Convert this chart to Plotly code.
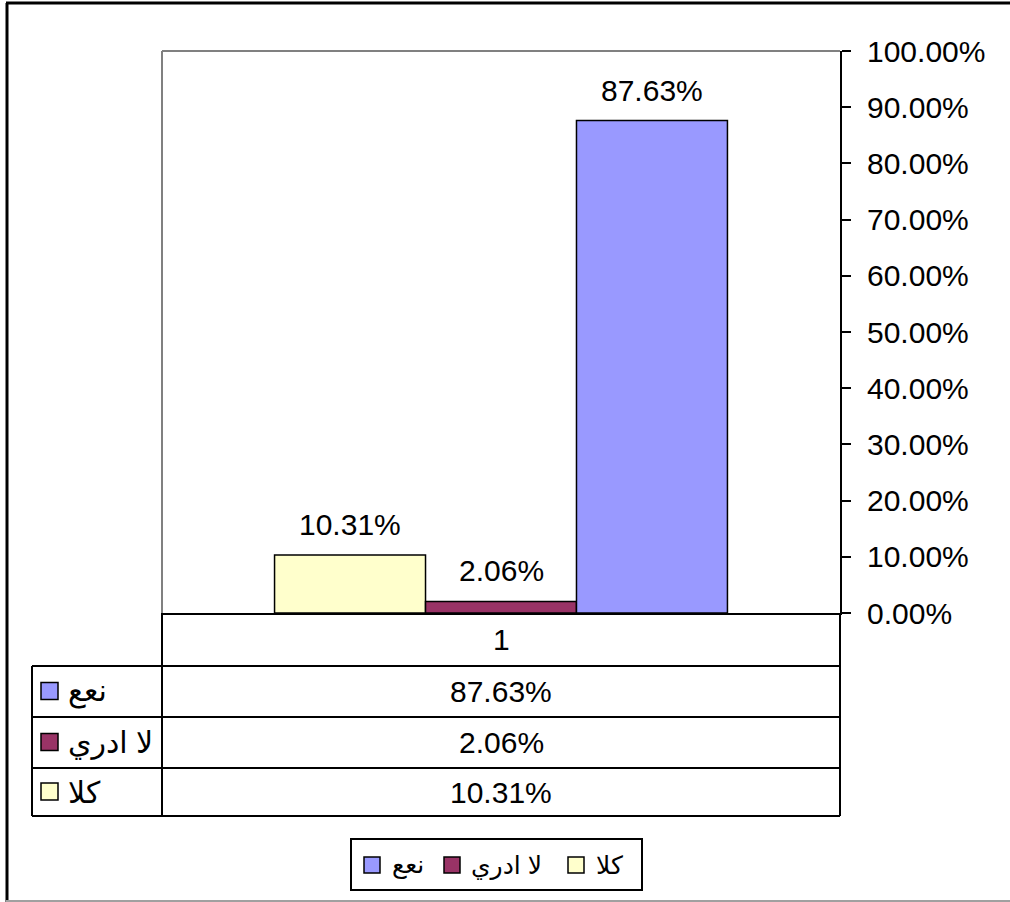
import plotly.graph_objects as go

# ---------------- data ----------------
categories = ["كلا", "لا ادري", "نعع"]
values = [0.1031, 0.0206, 0.8763]
colors = ["#FFFFCC", "#993366", "#9999FF"]
group_label = ["1"]
table_order = ["نعع", "لا ادري", "كلا"]

FONT = "Liberation Sans, Arial, DejaVu Sans, sans-serif"

# ---------------- layout geometry (pixels) ----------------
WIDTH, HEIGHT = 1010, 902
L, R, T, B = 162, 840, 51, 613
PW, PH = R - L, B - T
BARGAP = 0.332


def px(x):
    return (x - L) / PW


def py(y):
    return (B - y) / PH


fig = go.Figure()
for name, v, c in zip(categories, values, colors):
    fig.add_trace(go.Bar(
        x=group_label, y=[v], name=name,
        marker=dict(color=c, line=dict(color="black", width=1.5)),
        showlegend=False, hoverinfo="skip",
    ))

shapes = []
annotations = []

# data labels above bars (x given as category index 0 -> group "1")
bar_w = PW * (1 - BARGAP) / len(categories)
for i, v in enumerate(values):
    annotations.append(dict(
        x=0, y=v, xref="x", yref="y",
        xshift=(i - (len(categories) - 1) / 2) * bar_w, yshift=12,
        text=f"{v*100:.2f}%", showarrow=False, yanchor="bottom", xanchor="center",
        font=dict(size=30, color="black", family=FONT),
    ))

# plot area border (gray, top and left)
shapes.append(dict(type="line", xref="paper", yref="paper", x0=0, x1=1, y0=py(T), y1=py(T),
                   line=dict(color="#808080", width=2)))
shapes.append(dict(type="line", xref="paper", yref="paper", x0=0, x1=0, y0=0, y1=py(T),
                   line=dict(color="#808080", width=2)))

# data table
row_lines = [666, 717, 768, 816]
tcol_left = 32
line_style = dict(color="black", width=2)
for yl in row_lines:
    shapes.append(dict(type="line", xref="paper", yref="paper", x0=px(tcol_left), x1=px(R),
                       y0=py(yl), y1=py(yl), line=line_style))
shapes.append(dict(type="line", xref="paper", yref="paper", x0=px(tcol_left), x1=px(tcol_left),
                   y0=py(row_lines[0]), y1=py(row_lines[-1]), line=line_style))
shapes.append(dict(type="line", xref="paper", yref="paper", x0=px(L), x1=px(L),
                   y0=py(B), y1=py(row_lines[-1]), line=line_style))
shapes.append(dict(type="line", xref="paper", yref="paper", x0=px(R), x1=px(R),
                   y0=py(B), y1=py(row_lines[-1]), line=line_style))

# header row "1"
annotations.append(dict(x=0.5, y=py((B + row_lines[0]) / 2), xref="paper", yref="paper",
                        text=group_label[0], showarrow=False, xanchor="center", yanchor="middle",
                        font=dict(size=30, color="black", family=FONT)))

row_bounds = [(row_lines[0], row_lines[1]), (row_lines[1], row_lines[2]), (row_lines[2], row_lines[3])]
for name, (y0, y1) in zip(table_order, row_bounds):
    idx = categories.index(name)
    yc = (y0 + y1) / 2
    # swatch
    shapes.append(dict(type="rect", xref="paper", yref="paper",
                       x0=px(41), x1=px(58), y0=py(yc + 8), y1=py(yc - 9),
                       fillcolor=colors[idx], line=dict(color="black", width=1.5)))
    annotations.append(dict(x=px(66), y=py(yc), xref="paper", yref="paper",
                            text=name, showarrow=False, xanchor="left", yanchor="middle",
                            font=dict(size=30, color="black", family=FONT)))
    annotations.append(dict(x=0.5, y=py(yc), xref="paper", yref="paper",
                            text=f"{values[idx]*100:.2f}%", showarrow=False,
                            xanchor="center", yanchor="middle",
                            font=dict(size=30, color="black", family=FONT)))

# legend box (bottom)
shapes.append(dict(type="rect", xref="paper", yref="paper", x0=px(351), x1=px(642),
                   y0=py(890), y1=py(839), line=dict(color="black", width=2)))
legend_items = [("نعع", 364, 390), ("لا ادري", 444, 469), ("كلا", 568, 594)]
ly = 865
for name, sx, tx in legend_items:
    idx = categories.index(name)
    shapes.append(dict(type="rect", xref="paper", yref="paper",
                       x0=px(sx), x1=px(sx + 16), y0=py(ly + 8), y1=py(ly - 8),
                       fillcolor=colors[idx], line=dict(color="black", width=1.5)))
    annotations.append(dict(x=px(tx), y=py(ly), xref="paper", yref="paper",
                            text=name, showarrow=False, xanchor="left", yanchor="middle",
                            font=dict(size=25, color="black", family=FONT)))

# outer chart border
shapes.append(dict(type="line", xref="paper", yref="paper", x0=px(7), x1=px(7),
                   y0=py(3), y1=py(902), line=dict(color="black", width=3)))
shapes.append(dict(type="line", xref="paper", yref="paper", x0=px(6), x1=px(1012),
                   y0=py(3), y1=py(3), line=dict(color="black", width=3)))
shapes.append(dict(type="line", xref="paper", yref="paper", x0=px(6), x1=px(1012),
                   y0=py(901), y1=py(901), line=dict(color="#A0A0A0", width=2)))

fig.update_layout(
    width=WIDTH, height=HEIGHT,
    margin=dict(l=L, r=WIDTH - R, t=T, b=HEIGHT - B, autoexpand=False),
    paper_bgcolor="white", plot_bgcolor="white",
    barmode="group", bargap=BARGAP, bargroupgap=0,
    showlegend=False,
    font=dict(family=FONT, color="black", size=30),
    xaxis=dict(type="category", range=[-0.5, 0.5], autorange=False,
               showticklabels=False, showgrid=False, zeroline=False,
               showline=True, linecolor="black", linewidth=2, ticks=""),
    yaxis=dict(side="right", range=[0, 1], autorange=False, dtick=0.1, tickformat=".2%",
               showgrid=False, zeroline=False, showline=True, linecolor="black", linewidth=2,
               ticks="outside", ticklen=9, tickwidth=2, tickcolor="black",
               ticklabelstandoff=10,
               tickfont=dict(size=30, color="black", family=FONT)),
    shapes=shapes, annotations=annotations,
)

fig.write_html("out.html", config={"displayModeBar": False},
               post_script="document.body.style.margin='0px';document.body.style.overflow='hidden';")
